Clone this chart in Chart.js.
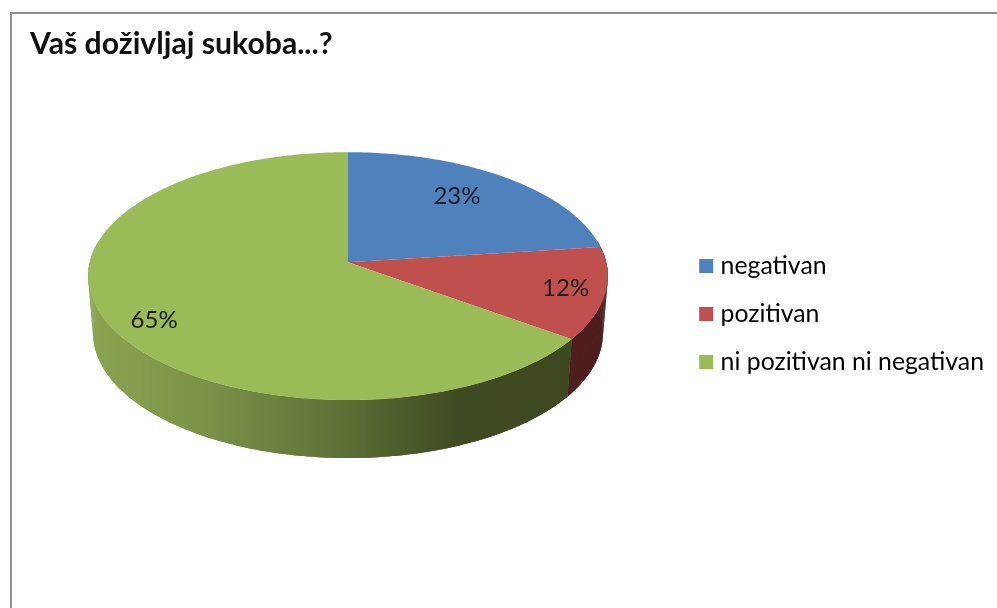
<!DOCTYPE html>
<html><head><meta charset="utf-8">
<style>html,body{margin:0;padding:0;background:#fff;overflow:hidden}canvas{display:block}</style>
<script src="https://cdn.jsdelivr.net/npm/chart.js@4"></script>
</head><body><canvas id="c" width="997" height="608"></canvas>
<script>
const titleText = 'Vaš doživljaj sukoba...?';
const categories = ['negativan', 'pozitivan', 'ni pozitivan ni negativan'];
const shares = [23, 12, 65];
const topColors = ['#4f81bd', '#c0504d', '#9bbb59'];
const labelNudges = [[-19, 3], [13, 1], [-2, 12]];

// perspective of the tilted disc, as ratios of the library's arc radius
const K = {w: -0.1129, ax: 1.196, ay: 0.5741, apex: -0.0648, depth: 0.2639, shrinkX: 0.981, shrinkY: 1.008};
function project(arc, r, ang) {
  const R = arc.outerRadius, u = r * Math.cos(ang), v = r * Math.sin(ang), w = 1 + K.w * v;
  return {x: arc.x + R * K.ax * u / w, y: arc.y + R * (K.apex + K.ay * v) / w};
}
function projectBase(arc, ang) {
  const p = project(arc, 1, ang);
  return {x: arc.x + (p.x - arc.x) * K.shrinkX, y: arc.y + (p.y - arc.y) * K.shrinkY + arc.outerRadius * K.depth};
}
function wallPaint(ctx, i, arc) {
  if (i === 0) return '#263f5e';
  if (i === 1) return '#4e1f1e';
  const R = arc.outerRadius;
  const g = ctx.createLinearGradient(arc.x - R * 1.2, 0, arc.x + R * 1.04, 0);
  g.addColorStop(0, '#8ba44f');
  g.addColorStop(0.25, '#7a9148');
  g.addColorStop(0.5, '#5f7438');
  g.addColorStop(0.76, '#3f4b22');
  g.addColorStop(1, '#3d4820');
  return g;
}
const pie3d = {
  id: 'pie3d',
  afterLayout(chart) {
    const t = chart.titleBlock, l = chart.legend;
    const th = t.bottom - t.top;
    t.left = 30; t.right = 900; t.top = 26; t.bottom = t.top + th;
    l.left = 681; l.right = 997; l.top = 230.5; l.bottom = 608;
  },
  beforeDatasetDraw(chart) {
    const ctx = chart.ctx, arcs = chart.getDatasetMeta(0).data;
    const lo = -10 * Math.PI / 180, hi = 190 * Math.PI / 180, step = Math.PI / 180;
    ctx.save();
    arcs.forEach((arc, i) => {
      let a0 = arc.startAngle, a1 = arc.endAngle;
      a0 = Math.max(a0, lo); a1 = Math.min(a1, hi);
      if (a1 <= a0) return;
      ctx.fillStyle = wallPaint(ctx, i, arc);
      ctx.beginPath();
      for (let a = a0; ; a += step) {
        const q = Math.min(a, a1), p = project(arc, 1, q);
        ctx.lineTo(p.x, p.y);
        if (a >= a1) break;
      }
      for (let a = a1; ; a -= step) {
        const q = Math.max(a, a0), p = projectBase(arc, q);
        ctx.lineTo(p.x, p.y);
        if (a <= a0) break;
      }
      ctx.closePath();
      ctx.fill();
      // side strips close the silhouette between the top rim and the base rim
      for (let a = a0; a < a1; a += step) {
        const b = Math.min(a + step, a1);
        const p1 = project(arc, 1, a), p2 = project(arc, 1, b), p3 = projectBase(arc, b), p4 = projectBase(arc, a);
        ctx.beginPath();
        ctx.moveTo(p1.x, p1.y); ctx.lineTo(p2.x, p2.y); ctx.lineTo(p3.x, p3.y); ctx.lineTo(p4.x, p4.y);
        ctx.closePath();
        ctx.fill();
      }
    });
    arcs.forEach((arc, i) => {
      const c = project(arc, 0, 0);
      ctx.beginPath();
      ctx.moveTo(c.x, c.y);
      for (let a = arc.startAngle; ; a += step) {
        const q = Math.min(a, arc.endAngle), p = project(arc, 1, q);
        ctx.lineTo(p.x, p.y);
        if (a >= arc.endAngle) break;
      }
      ctx.closePath();
      ctx.fillStyle = topColors[i];
      ctx.fill();
    });
    ctx.fillStyle = '#1c1c1c';
    ctx.font = '24px Lato';
    ctx.textAlign = 'center';
    ctx.textBaseline = 'middle';
    arcs.forEach((arc, i) => {
      const mid = (arc.startAngle + arc.endAngle) / 2, p = project(arc, 0.8, mid);
      ctx.fillText(shares[i] + '%', p.x + labelNudges[i][0], p.y + labelNudges[i][1]);
    });
    ctx.restore();
    return false;
  },
  beforeDraw(chart) {
    const ctx = chart.ctx;
    ctx.save();
    ctx.strokeStyle = '#8f8f8f';
    ctx.lineWidth = 2;
    ctx.beginPath();
    ctx.moveTo(11, 620); ctx.lineTo(11, 13); ctx.lineTo(1010, 13);
    ctx.stroke();
    ctx.restore();
  }
};
new Chart(document.getElementById('c'), {
  type: 'pie',
  data: {labels: categories, datasets: [{data: shares, backgroundColor: topColors, borderWidth: 0}]},
  plugins: [pie3d],
  options: {
    responsive: false,
    animation: false,
    layout: {padding: {left: 132, right: 433, top: 24, bottom: 116}},
    plugins: {
      tooltip: {enabled: false},
      title: {display: true, text: titleText, align: 'start', padding: 0, color: '#111',
        font: {family: 'Lato', size: 30.2, weight: 'bold', lineHeight: 1.2}},
      legend: {position: 'chartArea', align: 'start',
        labels: {boxWidth: 4, boxHeight: 4, padding: 23.2, color: '#222',
          font: {family: 'Lato', size: 24.8, lineHeight: 1.2},
          generateLabels: () => categories.map((t, i) => ({
            text: t, fillStyle: topColors[i], strokeStyle: topColors[i], lineWidth: 10, hidden: false, index: i
          }))}}
    }
  }
});
</script></body></html>
